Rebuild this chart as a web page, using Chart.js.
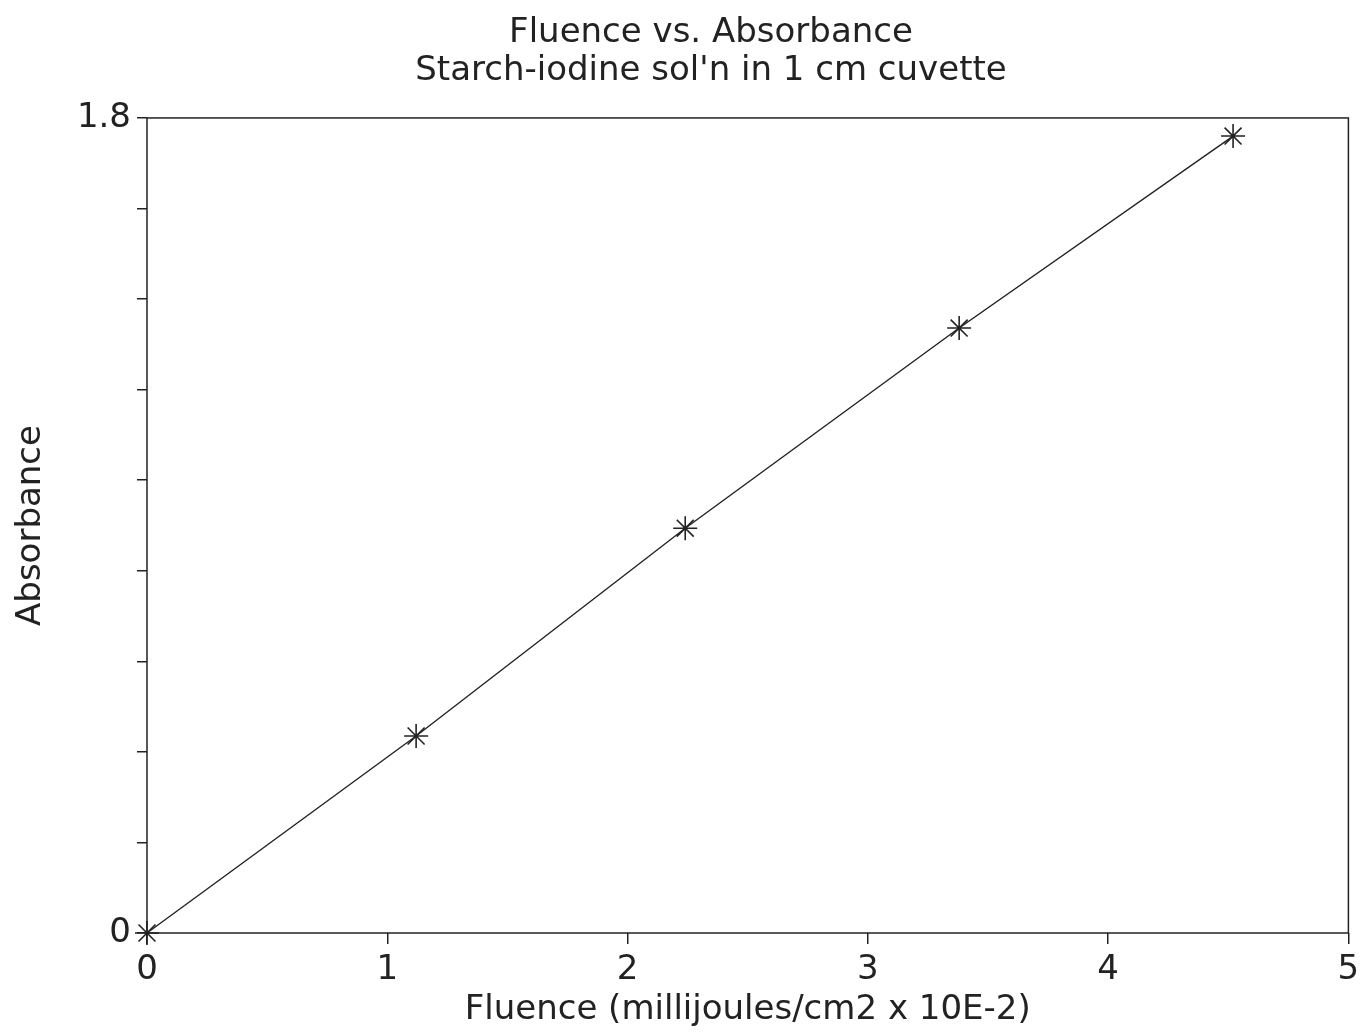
<!DOCTYPE html>
<html>
<head>
<meta charset="utf-8">
<script src="https://cdn.jsdelivr.net/npm/chart.js@4/dist/chart.umd.min.js"></script>
<style>
  html, body { margin: 0; padding: 0; background: #fff; }
  #wrap { width: 1362px; height: 1036px; }
</style>
</head>
<body>
<div id="wrap"><canvas id="c" width="1362" height="1036"></canvas></div>
<script>
// Measured fluence and absorbance pairs
const fluence = [0, 1.12, 2.24, 3.38, 4.52];
const absorbance = [0, 0.435, 0.894, 1.336, 1.760];

const titleLines = ['Fluence vs. Absorbance', "Starch-iodine sol'n in 1 cm cuvette"];
const xTitle = 'Fluence (millijoules/cm2 x 10E-2)';
const yTitle = 'Absorbance';
const yLabelled = [0, 1.8];

const ink = '#222';
const font = 'DejaVu Sans, Liberation Sans, Arial, sans-serif';

// Plot frame around the chart area
const framePlugin = {
  id: 'frame',
  afterDraw(chart) {
    const { ctx, chartArea: a } = chart;
    ctx.save();
    ctx.strokeStyle = ink;
    ctx.lineWidth = 1.5;
    ctx.strokeRect(a.left, a.top, a.right - a.left, a.bottom - a.top);
    ctx.restore();
  }
};

// Centre the title block a little right of the canvas middle
const titleShift = {
  id: 'titleShift',
  afterLayout(chart) {
    if (chart.titleBlock) chart.titleBlock.left += 72;
  }
};

new Chart(document.getElementById('c'), {
  type: 'scatter',
  data: {
    datasets: [{
      data: fluence.map((x, i) => ({ x, y: absorbance[i] })),
      showLine: true,
      borderColor: ink,
      borderWidth: 1.4,
      pointStyle: 'star',
      pointRadius: 12,
      pointBorderWidth: 1.6,
      pointBorderColor: ink,
      pointBackgroundColor: ink,
      clip: false
    }]
  },
  options: {
    responsive: false,
    animation: false,
    layout: { padding: { left: 0, right: 12, top: 0, bottom: 0 } },
    plugins: {
      legend: { display: false },
      tooltip: { enabled: false },
      title: {
        display: true,
        text: titleLines,
        color: ink,
        font: { family: font, size: 34, weight: 'normal', lineHeight: 1.12 },
        padding: { top: 14, bottom: 27.8 }
      }
    },
    scales: {
      x: {
        type: 'linear',
        min: 0, max: 5,
        afterFit(s) { s.height = 103; s.paddingLeft = 0; s.paddingRight = 0; },
        border: { display: false },
        grid: { drawOnChartArea: false, drawTicks: true, tickLength: 11, color: ink, lineWidth: 1.5 },
        ticks: { stepSize: 1, color: ink, padding: 6, font: { family: font, size: 34 } },
        title: {
          display: true, text: xTitle, color: ink,
          font: { family: font, size: 34, lineHeight: 1.2 },
          padding: { top: 0, bottom: 5 }
        }
      },
      y: {
        type: 'linear',
        min: 0, max: 1.8,
        afterFit(s) { s.width = 147; },
        border: { display: false },
        grid: { drawOnChartArea: false, drawTicks: true, tickLength: 10, color: ink, lineWidth: 1.5 },
        ticks: {
          stepSize: 0.2, color: ink, padding: 6,
          font: { family: font, size: 34 },
          callback(v) {
            const hit = yLabelled.find(t => Math.abs(t - v) < 1e-6);
            return hit === undefined ? '' : String(hit);
          }
        },
        title: {
          display: true, text: yTitle, color: ink,
          font: { family: font, size: 34, lineHeight: 1.2 },
          padding: { top: 11, bottom: 0 }
        }
      }
    }
  },
  plugins: [framePlugin, titleShift]
});
</script>
</body>
</html>
